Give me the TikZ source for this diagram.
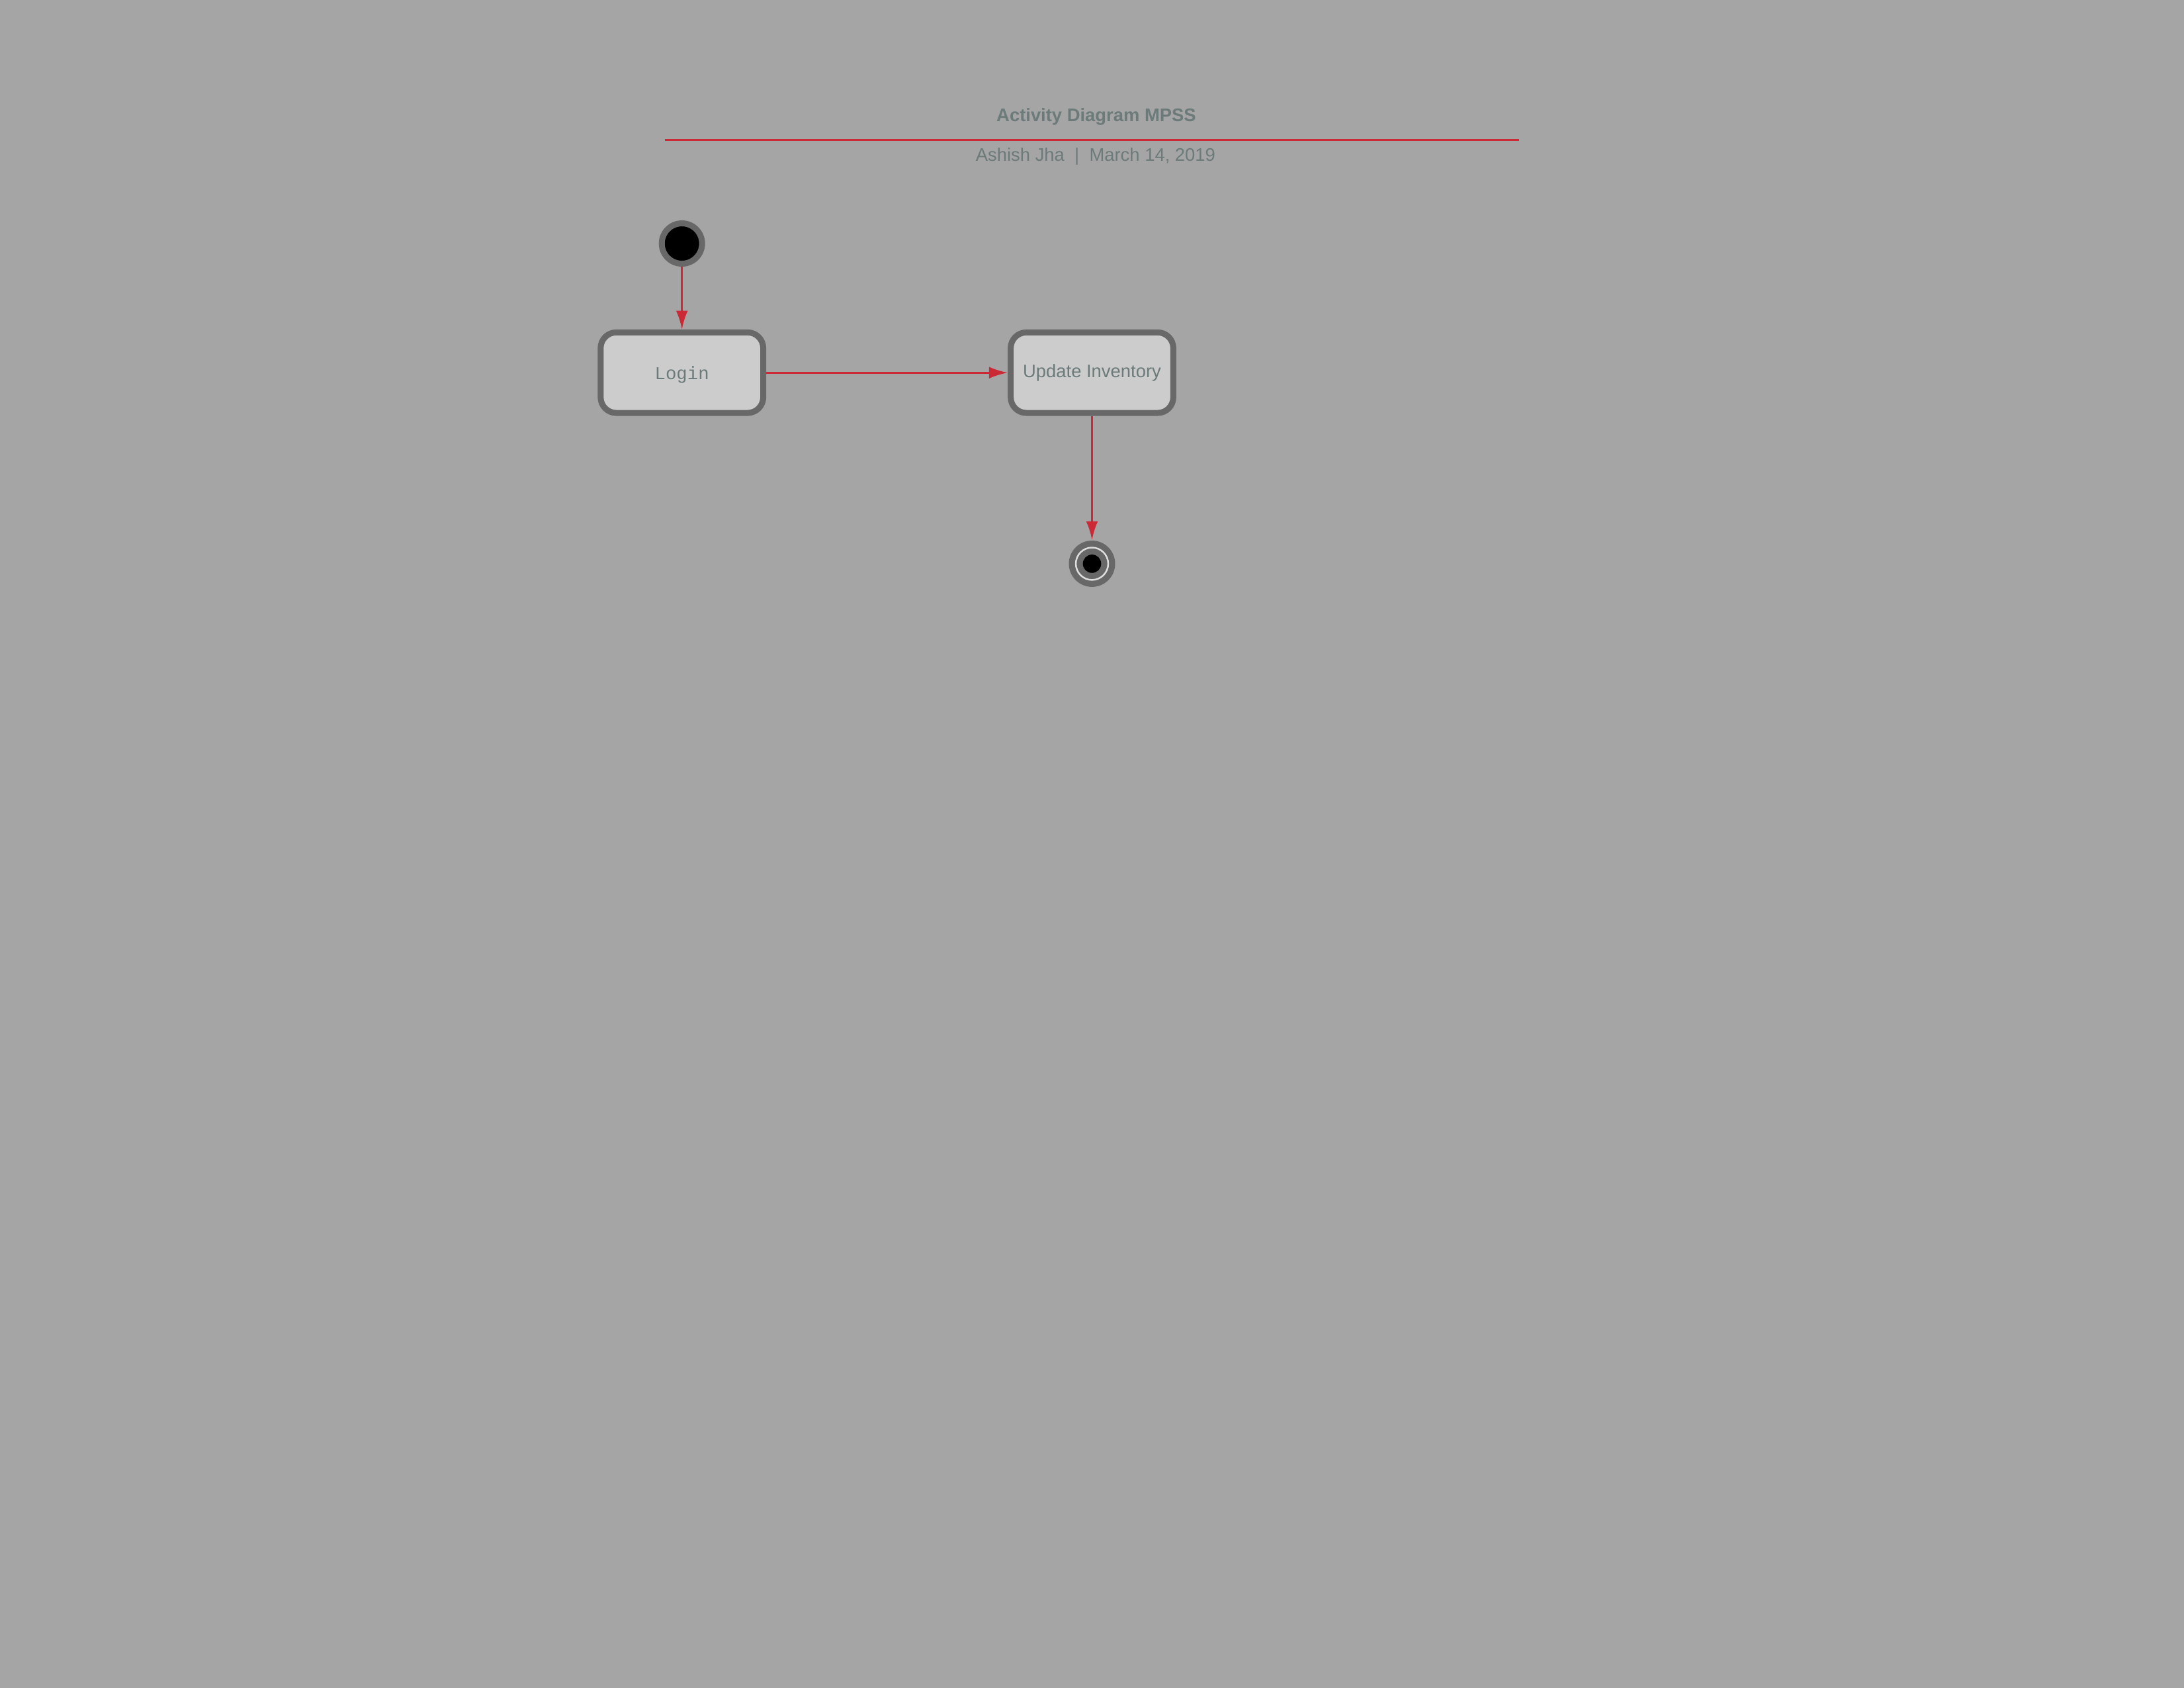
\documentclass[tikz,border=0pt]{standalone}
\usepackage{fontspec}
\setmainfont{Liberation Sans}
\setmonofont{Liberation Mono}
\usetikzlibrary{arrows.meta}
\definecolor{bggray}{RGB}{165,165,165}
\definecolor{boxfill}{RGB}{204,204,204}
\definecolor{edgegray}{RGB}{104,104,104}
\definecolor{labelgray}{RGB}{108,122,122}
\definecolor{flowred}{RGB}{204,41,54}
\definecolor{ringwhite}{RGB}{222,222,222}
\tikzset{
	activity/.style={draw=edgegray, fill=boxfill, line width=2.17pt, rounded corners=0.2cm,
		minimum width=2.08cm, minimum height=1.03cm, inner sep=0pt, text=labelgray,
		font=\fontsize{6.6}{8}\selectfont},
	flow/.style={draw=flowred, line width=0.72pt, arrows={-Latex[length=6.8pt,width=4.3pt]}},
	heading/.style={anchor=base, text=labelgray, font=\fontsize{6.6}{8}\selectfont},
}
\begin{document}
\begin{tikzpicture}
	\fill [bggray] (0,0) rectangle (27.94,-21.59);
	\useasboundingbox (0,0) rectangle (27.94,-21.59);

	\node [heading, font=\bfseries\fontsize{6.6}{8}\selectfont] (title) at (14.025,-1.549) {Activity Diagram MPSS};
	\draw [flowred, line width=0.72pt] (8.506,-1.786) -- (19.434,-1.786);
	\node [heading] (author) at (14.016,-2.057) {Ashish Jha~~|~~March 14, 2019};

	\node [circle, draw=edgegray, fill=black, line width=2.17pt, minimum size=0.516cm, inner sep=0pt] (start) at (8.724,-3.115) {};
	\node [activity, text depth=0pt, font=\ttfamily\fontsize{6.6}{8}\selectfont] (login) at (8.724,-4.767) {Login};
	\node [activity] (update) at (13.97,-4.767) {Update Inventory};
	\node [circle, fill=edgegray, minimum size=0.592cm, inner sep=0pt] (stop) at (13.97,-7.211) {};
	\draw [ringwhite, line width=0.6pt] (stop.center) circle [radius=0.207];
	\fill [black] (stop.center) circle [radius=0.117];

	\draw [flow] (start) -- (login);
	\draw [flow] (login) -- (update);
	\draw [flow] (update) -- (stop);
\end{tikzpicture}
\end{document}
